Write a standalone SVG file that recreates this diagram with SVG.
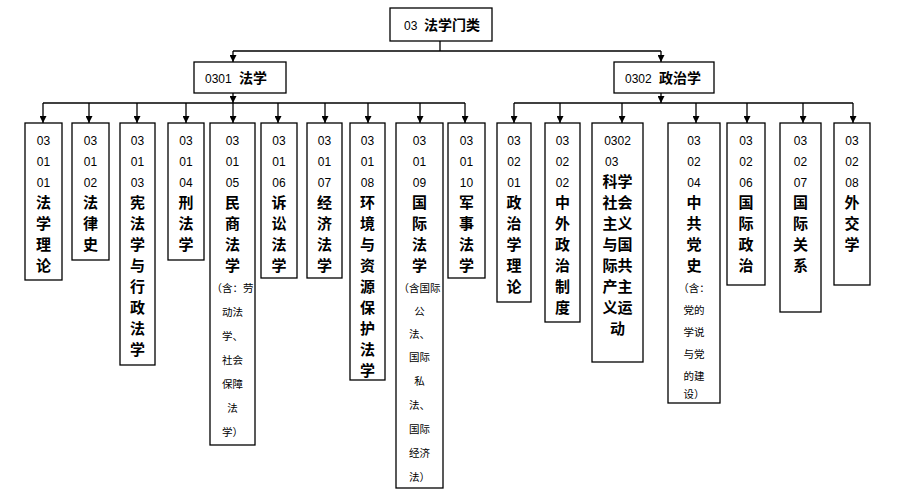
<svg xmlns="http://www.w3.org/2000/svg" width="904" height="495" viewBox="0 0 904 495">
<defs>
<marker id="ah" viewBox="0 0 10 10" refX="10" refY="5" markerWidth="7" markerHeight="7" orient="auto" markerUnits="userSpaceOnUse"><path d="M0,0 L10,5 L0,10 z" fill="#000"/></marker>
</defs>
<style>
rect{fill:#fff;stroke:#000;stroke-width:1.3}
text{font-family:"Liberation Sans","Noto Sans CJK SC",sans-serif;text-anchor:middle;fill:#000}
.n{font-size:12px}
.c{font-size:15px;font-weight:bold}
.s{font-size:10.5px}
.h{font-size:14px;font-weight:bold;text-anchor:start}
.hn{font-size:12px;text-anchor:start}
#conn line,#conn path{stroke:#000;stroke-width:1.3;fill:none}
</style>
<rect width="904" height="495" style="fill:#fff;stroke:none"/>
<g id="conn">
<line x1="440" y1="40" x2="440" y2="51"/>
<line x1="233" y1="51" x2="661" y2="51"/>
<line x1="233" y1="51" x2="233" y2="62" marker-end="url(#ah)"/>
<line x1="661" y1="51" x2="661" y2="62" marker-end="url(#ah)"/>
<line x1="233" y1="93" x2="233" y2="103" marker-end="url(#ah)"/>
<line x1="43" y1="103" x2="465" y2="103"/>
<line x1="43" y1="103" x2="43" y2="123" marker-end="url(#ah)"/>
<line x1="89" y1="103" x2="89" y2="123" marker-end="url(#ah)"/>
<line x1="137" y1="103" x2="137" y2="123" marker-end="url(#ah)"/>
<line x1="186" y1="103" x2="186" y2="123" marker-end="url(#ah)"/>
<line x1="233" y1="103" x2="233" y2="123" marker-end="url(#ah)"/>
<line x1="278" y1="103" x2="278" y2="123" marker-end="url(#ah)"/>
<line x1="325" y1="103" x2="325" y2="123" marker-end="url(#ah)"/>
<line x1="368" y1="103" x2="368" y2="123" marker-end="url(#ah)"/>
<line x1="420" y1="103" x2="420" y2="123" marker-end="url(#ah)"/>
<line x1="465" y1="103" x2="465" y2="123" marker-end="url(#ah)"/>
<line x1="661" y1="93" x2="661" y2="103" marker-end="url(#ah)"/>
<line x1="514" y1="103" x2="853" y2="103"/>
<line x1="514" y1="103" x2="514" y2="123" marker-end="url(#ah)"/>
<line x1="560" y1="103" x2="560" y2="123" marker-end="url(#ah)"/>
<line x1="622" y1="103" x2="622" y2="123" marker-end="url(#ah)"/>
<line x1="696" y1="103" x2="696" y2="123" marker-end="url(#ah)"/>
<line x1="747" y1="103" x2="747" y2="123" marker-end="url(#ah)"/>
<line x1="803" y1="103" x2="803" y2="123" marker-end="url(#ah)"/>
<line x1="853" y1="103" x2="853" y2="123" marker-end="url(#ah)"/>
</g>
<g id="root"><rect x="390" y="8" width="102" height="33"/><text x="404" y="30" class="hn">03</text><text x="424" y="30" class="h">法学门类</text></g>
<g id="n0301"><rect x="194" y="62" width="92" height="31"/><text x="205" y="83" class="hn">0301</text><text x="239" y="83" class="h">法学</text></g>
<g id="n0302"><rect x="614" y="62" width="100" height="31"/><text x="625" y="83" class="hn">0302</text><text x="659" y="83" class="h">政治学</text></g>

<g id="l1"><rect x="25" y="123" width="37" height="157"/><text x="43.5" class="n"><tspan x="43.5" y="145">03</tspan><tspan x="43.5" y="166">01</tspan><tspan x="43.5" y="187">01</tspan></text><text class="c"><tspan x="43.5" y="208">法</tspan><tspan x="43.5" y="229">学</tspan><tspan x="43.5" y="250">理</tspan><tspan x="43.5" y="271">论</tspan></text></g>
<g id="l2"><rect x="72" y="123" width="37" height="137"/><text class="n"><tspan x="90.5" y="145">03</tspan><tspan x="90.5" y="166">01</tspan><tspan x="90.5" y="187">02</tspan></text><text class="c"><tspan x="90.5" y="208">法</tspan><tspan x="90.5" y="229">律</tspan><tspan x="90.5" y="250">史</tspan></text></g>
<g id="l3"><rect x="120" y="123" width="35" height="242"/><text class="n"><tspan x="137.5" y="145">03</tspan><tspan x="137.5" y="166">01</tspan><tspan x="137.5" y="187">03</tspan></text><text class="c"><tspan x="137.5" y="208">宪</tspan><tspan x="137.5" y="229">法</tspan><tspan x="137.5" y="250">学</tspan><tspan x="137.5" y="271">与</tspan><tspan x="137.5" y="292">行</tspan><tspan x="137.5" y="313">政</tspan><tspan x="137.5" y="334">法</tspan><tspan x="137.5" y="355">学</tspan></text></g>
<g id="l4"><rect x="168" y="123" width="36" height="137"/><text class="n"><tspan x="186" y="145">03</tspan><tspan x="186" y="166">01</tspan><tspan x="186" y="187">04</tspan></text><text class="c"><tspan x="186" y="208">刑</tspan><tspan x="186" y="229">法</tspan><tspan x="186" y="250">学</tspan></text></g>
<g id="l5"><rect x="210" y="123" width="45" height="322"/><text class="n"><tspan x="232.5" y="145">03</tspan><tspan x="232.5" y="166">01</tspan><tspan x="232.5" y="187">05</tspan></text><text class="c"><tspan x="232.5" y="208">民</tspan><tspan x="232.5" y="229">商</tspan><tspan x="232.5" y="250">法</tspan><tspan x="232.5" y="271">学</tspan></text><text class="s"><tspan x="232.5" y="292">（含：劳</tspan><tspan x="232.5" y="316">动法</tspan><tspan x="232.5" y="340">学、</tspan><tspan x="232.5" y="364">社会</tspan><tspan x="232.5" y="388">保障</tspan><tspan x="232.5" y="412">法</tspan><tspan x="232.5" y="436">学）</tspan></text></g>
<g id="l6"><rect x="261" y="123" width="36" height="155"/><text class="n"><tspan x="279" y="145">03</tspan><tspan x="279" y="166">01</tspan><tspan x="279" y="187">06</tspan></text><text class="c"><tspan x="279" y="208">诉</tspan><tspan x="279" y="229">讼</tspan><tspan x="279" y="250">法</tspan><tspan x="279" y="271">学</tspan></text></g>
<g id="l7"><rect x="307" y="123" width="35" height="155"/><text class="n"><tspan x="324.5" y="145">03</tspan><tspan x="324.5" y="166">01</tspan><tspan x="324.5" y="187">07</tspan></text><text class="c"><tspan x="324.5" y="208">经</tspan><tspan x="324.5" y="229">济</tspan><tspan x="324.5" y="250">法</tspan><tspan x="324.5" y="271">学</tspan></text></g>
<g id="l8"><rect x="350" y="123" width="35" height="257"/><text class="n"><tspan x="367.5" y="145">03</tspan><tspan x="367.5" y="166">01</tspan><tspan x="367.5" y="187">08</tspan></text><text class="c"><tspan x="367.5" y="208">环</tspan><tspan x="367.5" y="229">境</tspan><tspan x="367.5" y="250">与</tspan><tspan x="367.5" y="271">资</tspan><tspan x="367.5" y="292">源</tspan><tspan x="367.5" y="313">保</tspan><tspan x="367.5" y="334">护</tspan><tspan x="367.5" y="355">法</tspan><tspan x="367.5" y="376">学</tspan></text></g>
<g id="l9"><rect x="396" y="123" width="47" height="365"/><text class="n"><tspan x="419.5" y="145">03</tspan><tspan x="419.5" y="166">01</tspan><tspan x="419.5" y="187">09</tspan></text><text class="c"><tspan x="419.5" y="208">国</tspan><tspan x="419.5" y="229">际</tspan><tspan x="419.5" y="250">法</tspan><tspan x="419.5" y="271">学</tspan></text><text class="s"><tspan x="419.5" y="292">（含国际</tspan><tspan x="419.5" y="315">公</tspan><tspan x="419.5" y="338">法、</tspan><tspan x="419.5" y="361">国际</tspan><tspan x="419.5" y="385">私</tspan><tspan x="419.5" y="409">法、</tspan><tspan x="419.5" y="433">国际</tspan><tspan x="419.5" y="457">经济</tspan><tspan x="419.5" y="481">法）</tspan></text></g>
<g id="l10"><rect x="448" y="123" width="37" height="155"/><text class="n"><tspan x="466.5" y="145">03</tspan><tspan x="466.5" y="166">01</tspan><tspan x="466.5" y="187">10</tspan></text><text class="c"><tspan x="466.5" y="208">军</tspan><tspan x="466.5" y="229">事</tspan><tspan x="466.5" y="250">法</tspan><tspan x="466.5" y="271">学</tspan></text></g>

<g id="r1"><rect x="497" y="123" width="34" height="179"/><text class="n"><tspan x="514" y="145">03</tspan><tspan x="514" y="166">02</tspan><tspan x="514" y="187">01</tspan></text><text class="c"><tspan x="514" y="208">政</tspan><tspan x="514" y="229">治</tspan><tspan x="514" y="250">学</tspan><tspan x="514" y="271">理</tspan><tspan x="514" y="292">论</tspan></text></g>
<g id="r2"><rect x="545" y="123" width="35" height="199"/><text class="n"><tspan x="562.5" y="145">03</tspan><tspan x="562.5" y="166">02</tspan><tspan x="562.5" y="187">02</tspan></text><text class="c"><tspan x="562.5" y="208">中</tspan><tspan x="562.5" y="229">外</tspan><tspan x="562.5" y="250">政</tspan><tspan x="562.5" y="271">治</tspan><tspan x="562.5" y="292">制</tspan><tspan x="562.5" y="313">度</tspan></text></g>
<g id="r3"><rect x="592" y="123" width="51" height="239"/><text class="n"><tspan x="617.5" y="145">0302</tspan><tspan x="605" y="166" style="text-anchor:start">03</tspan></text><text class="c"><tspan x="617.5" y="187">科学</tspan><tspan x="617.5" y="208">社会</tspan><tspan x="617.5" y="229">主义</tspan><tspan x="617.5" y="250">与国</tspan><tspan x="617.5" y="271">际共</tspan><tspan x="617.5" y="292">产主</tspan><tspan x="617.5" y="313">义运</tspan><tspan x="617.5" y="334">动</tspan></text></g>
<g id="r4"><rect x="668" y="123" width="52" height="280"/><text class="n"><tspan x="694" y="145">03</tspan><tspan x="694" y="166">02</tspan><tspan x="694" y="187">04</tspan></text><text class="c"><tspan x="694" y="208">中</tspan><tspan x="694" y="229">共</tspan><tspan x="694" y="250">党</tspan><tspan x="694" y="271">史</tspan></text><text class="s"><tspan x="694" y="292">（含：</tspan><tspan x="694" y="314">党的</tspan><tspan x="694" y="336">学说</tspan><tspan x="694" y="358">与党</tspan><tspan x="694" y="380">的建</tspan><tspan x="694" y="398">设）</tspan></text></g>
<g id="r5"><rect x="727" y="123" width="38" height="162"/><text class="n"><tspan x="746" y="145">03</tspan><tspan x="746" y="166">02</tspan><tspan x="746" y="187">06</tspan></text><text class="c"><tspan x="746" y="208">国</tspan><tspan x="746" y="229">际</tspan><tspan x="746" y="250">政</tspan><tspan x="746" y="271">治</tspan></text></g>
<g id="r6"><rect x="780" y="123" width="41" height="189"/><text class="n"><tspan x="800.5" y="145">03</tspan><tspan x="800.5" y="166">02</tspan><tspan x="800.5" y="187">07</tspan></text><text class="c"><tspan x="800.5" y="208">国</tspan><tspan x="800.5" y="229">际</tspan><tspan x="800.5" y="250">关</tspan><tspan x="800.5" y="271">系</tspan></text></g>
<g id="r7"><rect x="834" y="123" width="36" height="162"/><text class="n"><tspan x="852" y="145">03</tspan><tspan x="852" y="166">02</tspan><tspan x="852" y="187">08</tspan></text><text class="c"><tspan x="852" y="208">外</tspan><tspan x="852" y="229">交</tspan><tspan x="852" y="250">学</tspan></text></g>
</svg>
